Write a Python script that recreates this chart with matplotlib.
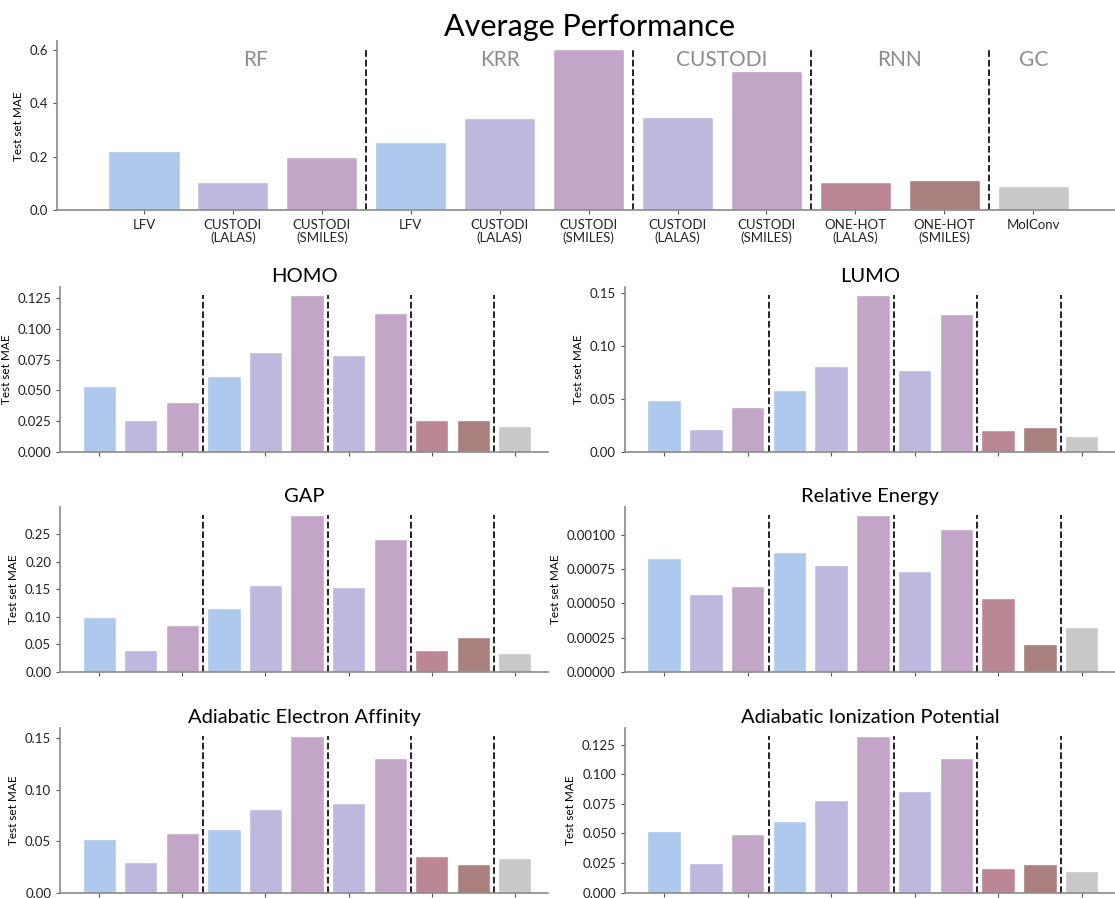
import numpy as np
import matplotlib.pyplot as plt

plt.rcParams['font.family'] = ['Lato', 'DejaVu Sans']

# model / representation labels for the 11 bars
tick_labels = ["LFV", "CUSTODI\n(LALAS)", "CUSTODI\n(SMILES)",
               "LFV", "CUSTODI\n(LALAS)", "CUSTODI\n(SMILES)",
               "CUSTODI\n(LALAS)", "CUSTODI\n(SMILES)",
               "ONE-HOT\n(LALAS)", "ONE-HOT\n(SMILES)", "MolConv"]
groups = ["RF", "KRR", "CUSTODI", "RNN", "GC"]
group_pos = [1.25, 4, 6.5, 8.5, 10]
separators = [2.5, 5.5, 7.5, 9.5]

bar_colors = ["#aec8ee", "#bcb8de", "#c3a6c7",
              "#aec8ee", "#bcb8de", "#c3a6c7",
              "#bcb8de", "#c3a6c7",
              "#bc8795", "#aa807f", "#c8c8c8"]

average = [0.221, 0.105, 0.201, 0.256, 0.345, 0.603, 0.350, 0.522, 0.105, 0.112, 0.090]
homo = [0.0534, 0.0259, 0.0406, 0.0614, 0.0812, 0.1274, 0.0785, 0.1127, 0.0259, 0.0254, 0.0208]
lumo = [0.0486, 0.0217, 0.0418, 0.0585, 0.0807, 0.1479, 0.0776, 0.1302, 0.0201, 0.0238, 0.0152]
gap = [0.0989, 0.0396, 0.0845, 0.1157, 0.1583, 0.2842, 0.1535, 0.2410, 0.0396, 0.0629, 0.0342]
rel_energy = [0.000831, 0.000568, 0.000628, 0.000874, 0.000783, 0.001145,
              0.000734, 0.001043, 0.000541, 0.000205, 0.000329]
aea = [0.0525, 0.0296, 0.0583, 0.0618, 0.0815, 0.1522, 0.0876, 0.1312, 0.0357, 0.0274, 0.0341]
aip = [0.0522, 0.0251, 0.0499, 0.0604, 0.0784, 0.1322, 0.0861, 0.1137, 0.0210, 0.0240, 0.0179]

x = np.arange(len(tick_labels))


def style(ax):
    for s in ["top", "right"]:
        ax.spines[s].set_visible(False)
    for s in ["left", "bottom"]:
        ax.spines[s].set_color("#8a8a8a")
        ax.spines[s].set_linewidth(1.2)
    ax.tick_params(colors="#222222", labelsize=9.5, length=3, color="#555555")
    ax.set_ylabel("Test set MAE", fontsize=8.5)


def panel(ax, vals, title=None):
    ax.bar(x, vals, width=0.8, color=bar_colors, edgecolor="white", linewidth=1)
    ax.vlines(separators, 0, max(vals), colors="#111111", linestyles="--", linewidth=1.3)
    ax.set_ylim(0, max(vals) * 1.05)
    style(ax)
    if title:
        ax.set_title(title, fontsize=14.5, pad=4)


fig = plt.figure(figsize=(11.15, 8.98), dpi=100)

# Average performance
ax0 = fig.add_axes([0.051, 0.766, 0.949, 0.188])
panel(ax0, average)
ax0.set_xlim(-0.98, 10.92)
ax0.set_xticks(x)
ax0.set_xticklabels(tick_labels, fontsize=9.5, linespacing=1.0)
ax0.set_yticks([0.0, 0.2, 0.4, 0.6])
for g, p in zip(groups, group_pos):
    ax0.text(p, 0.562, g, ha="center", va="center", fontsize=15, color="#8c8c8c")
fig.text(0.529, 0.97, "Average Performance", ha="center", va="center", fontsize=22)

# property panels
props = [(homo, "HOMO", [0.000, 0.025, 0.050, 0.075, 0.100, 0.125], "%.3f"),
         (lumo, "LUMO", [0.00, 0.05, 0.10, 0.15], "%.2f"),
         (gap, "GAP", [0.00, 0.05, 0.10, 0.15, 0.20, 0.25], "%.2f"),
         (rel_energy, "Relative Energy", [0, 0.00025, 0.0005, 0.00075, 0.001], "%.5f"),
         (aea, "Adiabatic Electron Affinity", [0.00, 0.05, 0.10, 0.15], "%.2f"),
         (aip, "Adiabatic Ionization Potential", [0.000, 0.025, 0.050, 0.075, 0.100, 0.125], "%.3f")]

lefts = [0.054, 0.5605]
widths = [0.4375, 0.4395]
bottoms = [0.497, 0.252, 0.006]

for i, (vals, title, yt, fmt) in enumerate(props):
    r, c = divmod(i, 2)
    ax = fig.add_axes([lefts[c], bottoms[r], widths[c], 0.183])
    panel(ax, vals, title)
    ax.set_xlim(-0.94, 10.8)
    ax.set_xticks(x[::2])
    ax.set_xticklabels([])
    ax.set_yticks(yt)
    ax.set_yticklabels([fmt % v for v in yt])

fig.savefig("out.png", dpi=100)
